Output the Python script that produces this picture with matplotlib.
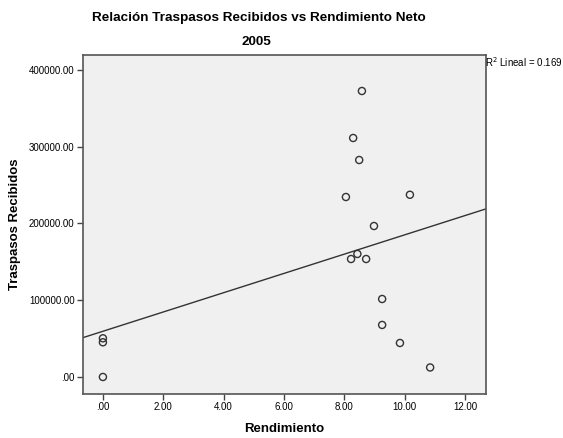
import numpy as np
import matplotlib
matplotlib.use("Agg")
import matplotlib.pyplot as plt

plt.rcParams['font.family'] = ['Liberation Sans', 'DejaVu Sans']

# data
rendimiento = [0.00, 0.00, 0.00, 8.58, 8.29, 8.49, 8.05, 10.17, 8.98,
               8.43, 8.22, 8.72, 9.25, 9.25, 9.84, 10.84]
traspasos = [0, 50400, 45200, 372600, 311400, 282700, 234500, 237400, 196700,
             160300, 153700, 153700, 101600, 67800, 44300, 12400]
x_ticks = [0, 2, 4, 6, 8, 10, 12]
y_ticks = [0, 100000, 200000, 300000, 400000]

x = np.array(rendimiento)
y = np.array(traspasos)
slope, intercept = np.polyfit(x, y, 1)
r2 = np.corrcoef(x, y)[0, 1] ** 2
print(slope, intercept, r2)

fig = plt.figure(figsize=(5.63, 4.38), dpi=100)
ax = fig.add_axes([0.1474, 0.1005, 0.7158, 0.7739])
ax.set_facecolor("#F0F0F0")

xlim = (-0.66, 12.69)
ax.set_xlim(*xlim)
ax.set_ylim(-22150, 419500)

xl = np.array(xlim)
ax.plot(xl, intercept + slope * xl, color="#333333", lw=1.0, zorder=2)
ax.scatter(x, y, s=26, facecolors="none", edgecolors="#333333", linewidths=1.0, zorder=3)

ax.set_xticks(x_ticks)
ax.set_xticklabels(["%.2f" % v if v else ".00" for v in x_ticks])
ax.set_yticks(y_ticks)
ax.set_yticklabels(["%.2f" % v if v else ".00" for v in y_ticks])
ax.tick_params(direction="out", length=4, width=1, color="#444444", labelsize=7, pad=2)
for s in ax.spines.values():
    s.set_color("#555555")
    s.set_linewidth(1.2)

ax.set_xlabel("Rendimiento", fontsize=9.5, fontweight="bold", labelpad=8)
ax.set_ylabel("Traspasos Recibidos", fontsize=9.5, fontweight="bold", labelpad=6)

fig.text(0.46, 0.958, "Relación Traspasos Recibidos vs Rendimiento Neto",
         ha="center", va="center", fontsize=9.7, fontweight="bold")
fig.text(0.455, 0.904, "2005", ha="center", va="center", fontsize=9.7, fontweight="bold")
fig.text(0.862, 0.858, "R$^2$ Lineal = %.3f" % r2, ha="left", va="center", fontsize=7)

fig.savefig("out.png", dpi=100)
